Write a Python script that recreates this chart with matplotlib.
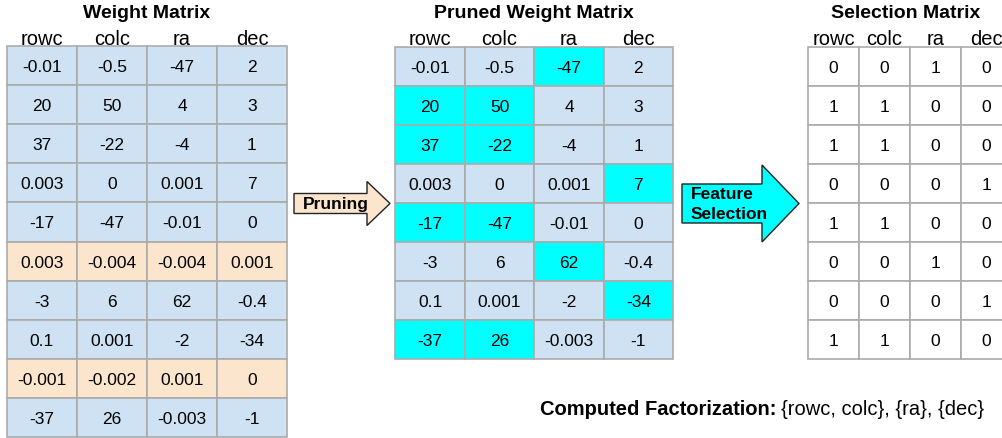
import matplotlib.pyplot as plt
from matplotlib.patches import Rectangle, FancyArrow

plt.rcParams['font.family'] = ['Liberation Sans', 'DejaVu Sans']

#%% data
col_names = ['rowc', 'colc', 'ra', 'dec']

weight_vals = [['-0.01', '-0.5', '-47', '2'],
               ['20', '50', '4', '3'],
               ['37', '-22', '-4', '1'],
               ['0.003', '0', '0.001', '7'],
               ['-17', '-47', '-0.01', '0'],
               ['0.003', '-0.004', '-0.004', '0.001'],
               ['-3', '6', '62', '-0.4'],
               ['0.1', '0.001', '-2', '-34'],
               ['-0.001', '-0.002', '0.001', '0'],
               ['-37', '26', '-0.003', '-1']]

pruned_rows = [0, 1, 2, 3, 4, 6, 7, 9]  # 5, 8 행은 제거 (pruned)

selection = [[0, 0, 1, 0],
             [1, 1, 0, 0],
             [1, 1, 0, 0],
             [0, 0, 0, 1],
             [1, 1, 0, 0],
             [0, 0, 1, 0],
             [0, 0, 0, 1],
             [1, 1, 0, 0]]

factorization = '{rowc, colc}, {ra}, {dec}'

#%% 스타일
c_blue = '#cfe2f3'
c_peach = '#fce5cd'
c_cyan = '#00ffff'
c_grid = '#ababab'
fs_cell = 12.5
fs_head = 14.5
fs_title = 14

fig = plt.figure(figsize=(10.03, 4.38), dpi=100)
ax = fig.add_axes([0, 0, 1, 1])
ax.set_xlim(0, 1003)
ax.set_ylim(438, 0)
ax.axis('off')


def draw_table(x0, y0, cw, rh, cells, colors, title, title_x):
    ax.text(title_x, 18, title, ha='center', va='baseline', fontsize=fs_title, fontweight='bold')
    for j, name in enumerate(col_names):
        ax.text(x0 + cw * (j + 0.5), 45, name, ha='center', va='baseline', fontsize=fs_head)
    for i, row in enumerate(cells):
        for j, val in enumerate(row):
            ax.add_patch(Rectangle((x0 + cw * j, y0 + rh * i), cw, rh, facecolor=colors[i][j],
                                   edgecolor=c_grid, linewidth=1.2))
            ax.text(x0 + cw * (j + 0.5), y0 + rh * i + rh / 2 + 6.5, val, ha='center', va='baseline',
                    fontsize=fs_cell)


# Weight Matrix
w_colors = [[c_peach if i in (5, 8) else c_blue] * 4 for i in range(len(weight_vals))]
draw_table(7, 46, 70, 39.1, weight_vals, w_colors, 'Weight Matrix', 147)

# Pruned Weight Matrix
p_vals = [weight_vals[i] for i in pruned_rows]
p_colors = [[c_cyan if s else c_blue for s in row] for row in selection]
draw_table(395.5, 47, 69.4, 39, p_vals, p_colors, 'Pruned Weight Matrix', 534)

# Selection Matrix
s_vals = [[str(s) for s in row] for row in selection]
s_colors = [['white'] * 4 for row in selection]
draw_table(808, 47, 51, 39, s_vals, s_colors, 'Selection Matrix', 906)

#%% 화살표
ax.add_patch(FancyArrow(294, 203.5, 96, 0, width=20, head_width=44, head_length=23,
                        length_includes_head=True, facecolor=c_peach, edgecolor='#222222', linewidth=1))
ax.text(303, 209, 'Pruning', ha='left', va='baseline', fontsize=12.5, fontweight='bold')

ax.add_patch(FancyArrow(682, 203.5, 117, 0, width=39, head_width=77, head_length=37,
                        length_includes_head=True, facecolor=c_cyan, edgecolor='#222222', linewidth=1))
ax.text(691, 199, 'Feature', ha='left', va='baseline', fontsize=12.5, fontweight='bold')
ax.text(691, 219, 'Selection', ha='left', va='baseline', fontsize=12.5, fontweight='bold')

#%% 하단 텍스트
ax.text(540, 415, 'Computed Factorization:', ha='left', va='baseline', fontsize=14.5, fontweight='bold')
ax.text(781, 415, factorization, ha='left', va='baseline', fontsize=14.5)

fig.savefig('out.png', dpi=100)
